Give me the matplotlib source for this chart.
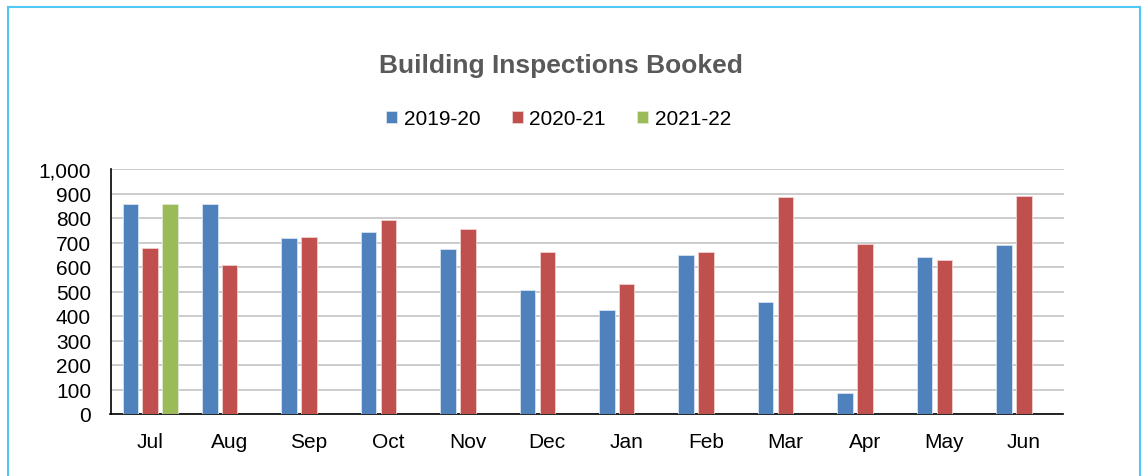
import matplotlib.pyplot as plt
import numpy as np

plt.rcParams['font.family'] = ['Liberation Sans', 'DejaVu Sans']

months = ['Jul', 'Aug', 'Sep', 'Oct', 'Nov', 'Dec', 'Jan', 'Feb', 'Mar', 'Apr', 'May', 'Jun']
fy1920 = [857, 856, 720, 744, 675, 505, 424, 649, 457, 87, 641, 690]
fy2021 = [678, 608, 722, 790, 755, 663, 529, 660, 886, 695, 630, 891]
fy2122 = [858]
series = ['2019-20', '2020-21', '2021-22']
colors = ['#4F81BD', '#C0504D', '#9BBB59']

fig = plt.figure(figsize=(11.42, 4.77), dpi=100)
ax = fig.add_axes([110.5 / 1142, 1 - 415 / 477, (1063.5 - 110.5) / 1142, (415 - 170) / 477])

x = np.arange(len(months))
w = 0.196
step = 0.25
ax.bar(x - step, fy1920, w, color=colors[0], edgecolor='#D6E2F0', linewidth=0.6, label=series[0], zorder=3)
ax.bar(x, fy2021, w, color=colors[1], edgecolor='#F0D0CF', linewidth=0.6, label=series[1], zorder=3)
ax.bar(x[:len(fy2122)] + step, fy2122, w, color=colors[2], edgecolor='#E0EBCF', linewidth=0.6, label=series[2], zorder=3)

ax.set_xlim(-0.5, len(months) - 0.5)
ax.set_ylim(0, 1000)
ax.set_yticks(range(0, 1001, 100))
ax.set_yticklabels([f'{v:,}' for v in range(0, 1001, 100)])
ax.set_xticks(x)
ax.set_xticklabels(months)
ax.tick_params(axis='both', length=0, labelsize=15, colors='black')
ax.tick_params(axis='y', pad=14)
ax.tick_params(axis='x', pad=13)
ax.yaxis.grid(True, color='#C8C8C8', linewidth=1.3, zorder=0)
ax.set_axisbelow(True)
for s in ['top', 'right']:
    ax.spines[s].set_visible(False)
ax.spines['left'].set_linewidth(1.2)
ax.spines['bottom'].set_linewidth(1.2)

fig.text(0.491, 1 - 66 / 477, 'Building Inspections Booked', ha='center', va='center',
         fontsize=19, fontweight='bold', color='#595959')
fig.legend(loc='center', bbox_to_anchor=(0.489, 1 - 120 / 477), ncol=3, frameon=False,
           fontsize=15, handlelength=0.55, handleheight=0.55, handletextpad=0.3, columnspacing=1.5)

# outer light blue border (bottom cut off)
fig.add_artist(plt.Line2D([8 / 1142, 8 / 1142], [0, 1 - 8 / 477], color='#4FC8F5', linewidth=1.5))
fig.add_artist(plt.Line2D([1140 / 1142, 1140 / 1142], [0, 1 - 8 / 477], color='#4FC8F5', linewidth=1.5))
fig.add_artist(plt.Line2D([8 / 1142, 1140 / 1142], [1 - 8 / 477, 1 - 8 / 477], color='#4FC8F5', linewidth=1.5))

fig.savefig('out.png', dpi=100)
